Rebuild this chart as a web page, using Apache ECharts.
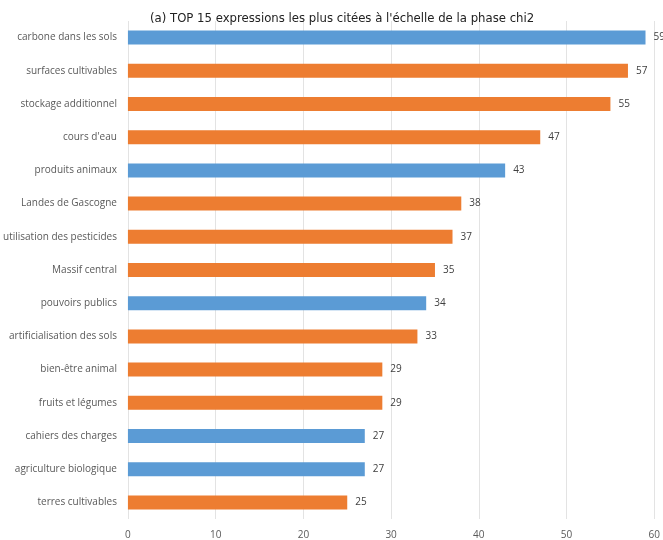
<!DOCTYPE html>
<html>
<head>
<meta charset="utf-8">
<script src="https://cdn.jsdelivr.net/npm/echarts@6/dist/echarts.min.js"></script>
<style>
  html, body { margin: 0; padding: 0; background: #fff; }
  #main { width: 663px; height: 540px; }
</style>
</head>
<body>
<div id="main"></div>
<script>
var categories = [
  "carbone dans les sols", "surfaces cultivables", "stockage additionnel",
  "cours d'eau", "produits animaux", "Landes de Gascogne",
  "utilisation des pesticides", "Massif central", "pouvoirs publics",
  "artificialisation des sols", "bien-être animal", "fruits et légumes",
  "cahiers des charges", "agriculture biologique", "terres cultivables"
];
var counts = [59, 57, 55, 47, 43, 38, 37, 35, 34, 33, 29, 29, 27, 27, 25];
var groups = ["b", "o", "o", "o", "b", "o", "o", "o", "b", "o", "o", "o", "b", "b", "o"];

var groupColors = { b: "#5b9bd5", o: "#ed7d31" };

var chartDom = document.getElementById("main");
var myChart = echarts.init(chartDom);

var option = {
  animation: false,
  title: {
    text: "(a) TOP 15 expressions les plus citées à l'échelle de la phase chi2",
    left: 145,
    top: 7,
    textStyle: {
      fontFamily: "'DejaVu Sans Condensed', sans-serif",
      fontWeight: "normal",
      fontSize: 13,
      color: "#222"
    }
  },
  grid: {
    left: 123,
    right: 7,
    top: 21,
    bottom: 20
  },
  xAxis: {
    type: "value",
    min: 0,
    max: 60,
    interval: 10,
    axisLine: { show: false },
    axisTick: { show: false },
    splitLine: { lineStyle: { color: "#e3e3e3", width: 1 } },
    axisLabel: {
      color: "#595959",
      fontSize: 10,
      fontFamily: "'Open Sans', sans-serif",
      margin: 11
    }
  },
  yAxis: {
    type: "category",
    inverse: true,
    data: categories,
    axisLine: { show: false },
    axisTick: { show: false },
    axisLabel: {
      color: "#595959",
      fontSize: 10,
      fontFamily: "'Open Sans', sans-serif",
      margin: 11
    }
  },
  series: [
    {
      type: "bar",
      barWidth: 14,
      data: counts.map(function (v, i) {
        return { value: v, itemStyle: { color: groupColors[groups[i]] } };
      }),
      label: {
        show: true,
        position: "right",
        distance: 8,
        color: "#404040",
        fontSize: 10,
        fontFamily: "'Open Sans', sans-serif"
      }
    }
  ]
};
option && myChart.setOption(option);
</script>
</body>
</html>
